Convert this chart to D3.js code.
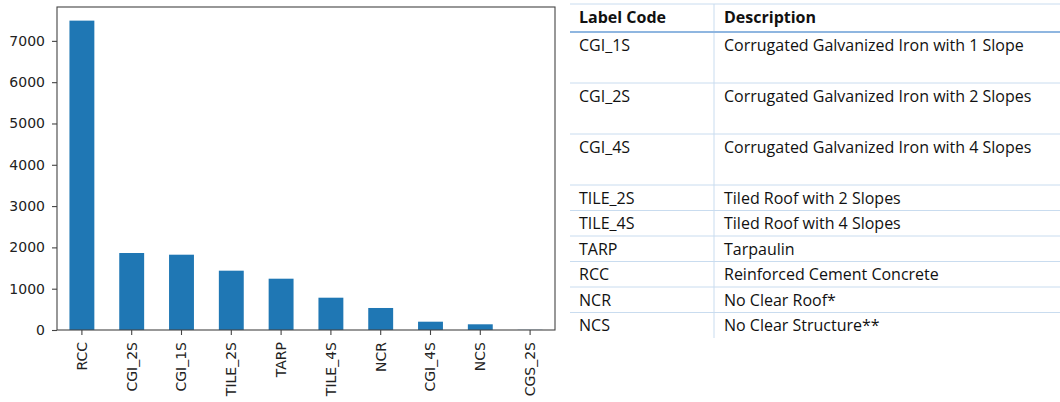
<!DOCTYPE html>
<html>
<head>
<meta charset="utf-8">
<title>Roof type counts</title>
<script src="https://cdn.jsdelivr.net/npm/d3@7"></script>
<style>
    body {
        margin: 0;
        background: white;
    }
    .axis text {
        font-family: "DejaVu Sans", sans-serif;
        font-size: 14px;
        fill: #222;
    }
    .axis path,
    .axis line {
        stroke: #444;
        stroke-width: 1.1px;
    }
    .tbl text {
        font-family: "Open Sans", Lato, sans-serif;
        font-size: 16px;
        fill: #111;
    }
</style>
</head>
<body>
<svg id="chart" width="1060" height="402"></svg>
<script>
// bar chart data
var categories = ["RCC", "CGI_2S", "CGI_1S", "TILE_2S", "TARP", "TILE_4S", "NCR", "CGI_4S", "NCS", "CGS_2S"];
var counts = [7490, 1864, 1823, 1436, 1242, 782, 533, 201, 138, 4];
var yTicks = [0, 1000, 2000, 3000, 4000, 5000, 6000, 7000];

// legend table data
var tableHeader = ["Label Code", "Description"];
var tableCodes = ["CGI_1S", "CGI_2S", "CGI_4S", "TILE_2S", "TILE_4S", "TARP", "RCC", "NCR", "NCS"];
var tableDescriptions = [
    "Corrugated Galvanized Iron with 1 Slope",
    "Corrugated Galvanized Iron with 2 Slopes",
    "Corrugated Galvanized Iron with 4 Slopes",
    "Tiled Roof with 2 Slopes",
    "Tiled Roof with 4 Slopes",
    "Tarpaulin",
    "Reinforced Cement Concrete",
    "No Clear Roof*",
    "No Clear Structure**"
];
var tableRowLines = [2, 2, 2, 1, 1, 1, 1, 1, 1];

var svg = d3.select("#chart");

// ---- bar chart ----
var plotLeft = 57, plotRight = 555, plotTop = 7, plotBottom = 330;

var x = d3.scaleBand()
    .domain(categories)
    .range([plotLeft, plotRight])
    .paddingInner(0.5)
    .paddingOuter(0.25);

var y = d3.scaleLinear()
    .domain([0, 7820])
    .range([plotBottom, plotTop]);

svg.append("g")
    .selectAll("rect")
    .data(categories)
    .enter().append("rect")
    .attr("x", function(d) { return x(d); })
    .attr("width", x.bandwidth())
    .attr("y", function(d, i) { return y(counts[i]); })
    .attr("height", function(d, i) { return plotBottom - y(counts[i]); })
    .attr("fill", "#1f77b4");

// frame
svg.append("rect")
    .attr("x", plotLeft)
    .attr("y", plotTop)
    .attr("width", plotRight - plotLeft)
    .attr("height", plotBottom - plotTop)
    .attr("fill", "none")
    .attr("stroke", "#444")
    .attr("stroke-width", 1.1);

var yAxis = svg.append("g")
    .attr("class", "axis")
    .attr("transform", "translate(" + plotLeft + ",0)")
    .call(d3.axisLeft(y).tickValues(yTicks).tickFormat(d3.format("d")).tickSize(5).tickPadding(7));
yAxis.select(".domain").remove();

var xAxis = svg.append("g")
    .attr("class", "axis")
    .attr("transform", "translate(0," + plotBottom + ")")
    .call(d3.axisBottom(x).tickSize(5).tickPadding(6));
xAxis.select(".domain").remove();
xAxis.selectAll("text")
    .attr("transform", "rotate(-90)")
    .attr("text-anchor", "end")
    .attr("x", -12)
    .attr("y", 0)
    .attr("dy", "0.35em");

// ---- legend table ----
var tx0 = 570, tx1 = 1060, colX = 714;
var codeX = 579, descX = 724;
var headTop = 4, headBottom = 32, lineH = 25.5;

var rowTops = [];
var acc = headBottom;
tableRowLines.forEach(function(n) {
    rowTops.push(acc);
    acc += n * lineH;
});
var tableBottom = acc;

var tbl = svg.append("g").attr("class", "tbl");

// top border
tbl.append("line")
    .attr("x1", tx0).attr("x2", tx1)
    .attr("y1", headTop).attr("y2", headTop)
    .attr("stroke", "#c9dcef").attr("stroke-width", 1);

// row separators
tbl.selectAll("line.row")
    .data(rowTops.slice(1))
    .enter().append("line")
    .attr("class", "row")
    .attr("x1", tx0).attr("x2", tx1)
    .attr("y1", function(d) { return d; })
    .attr("y2", function(d) { return d; })
    .attr("stroke", "#c9dcef").attr("stroke-width", 1);

// column separator
tbl.append("line")
    .attr("x1", colX).attr("x2", colX)
    .attr("y1", headTop).attr("y2", tableBottom)
    .attr("stroke", "#c9dcef").attr("stroke-width", 1);

// header underline
tbl.append("line")
    .attr("x1", tx0).attr("x2", tx1)
    .attr("y1", headBottom).attr("y2", headBottom)
    .attr("stroke", "#8fb6e0").attr("stroke-width", 2);

tbl.selectAll("text.head")
    .data(tableHeader)
    .enter().append("text")
    .attr("class", "head")
    .attr("x", function(d, i) { return i === 0 ? codeX : descX; })
    .attr("y", 23)
    .attr("font-weight", "bold")
    .text(function(d) { return d; });

tbl.selectAll("text.code")
    .data(tableCodes)
    .enter().append("text")
    .attr("class", "code")
    .attr("x", codeX)
    .attr("y", function(d, i) { return rowTops[i] + 18.5; })
    .text(function(d) { return d; });

tbl.selectAll("text.desc")
    .data(tableDescriptions)
    .enter().append("text")
    .attr("class", "desc")
    .attr("x", descX)
    .attr("y", function(d, i) { return rowTops[i] + 18.5; })
    .text(function(d) { return d; });
</script>
</body>
</html>
